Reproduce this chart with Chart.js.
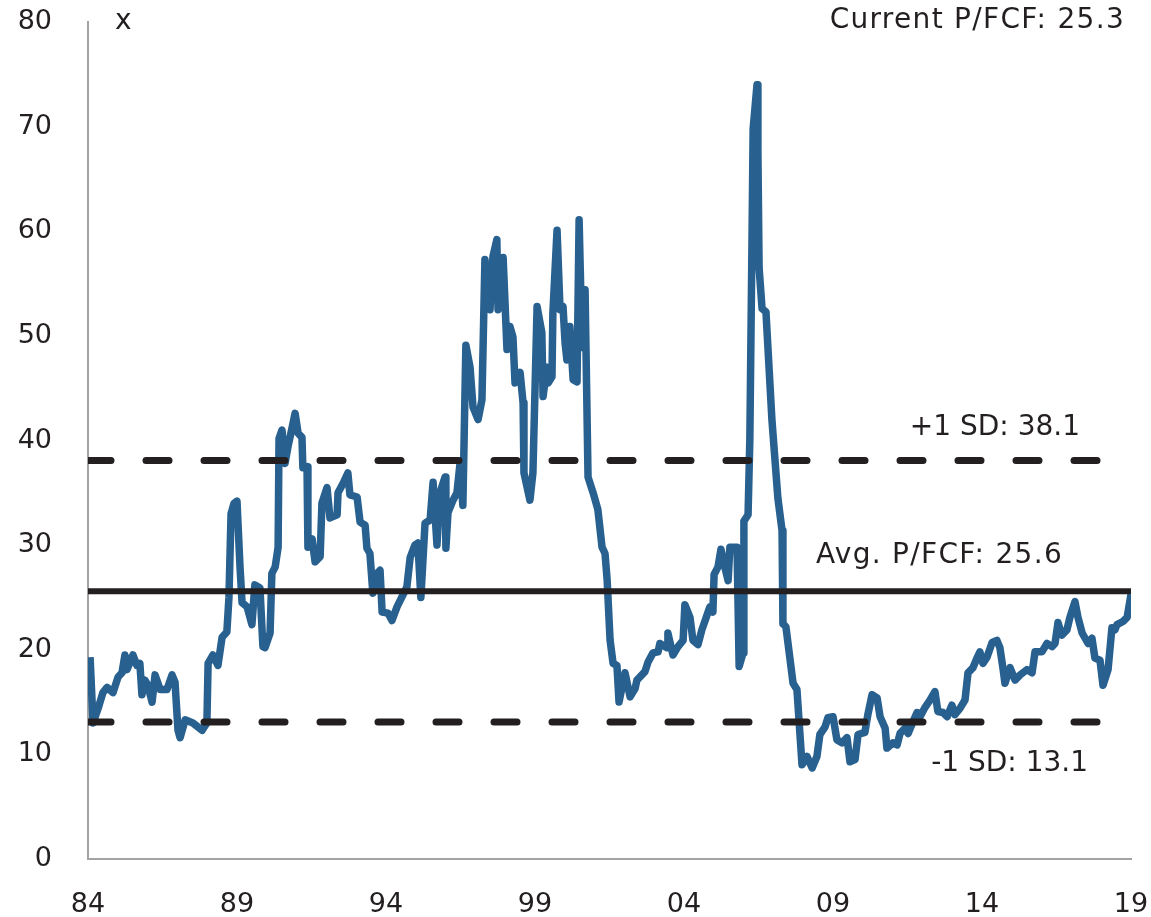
<!DOCTYPE html>
<html>
<head>
<meta charset="utf-8">
<script src="https://cdn.jsdelivr.net/npm/chart.js@4/dist/chart.umd.min.js"></script>
<style>
  html, body { margin: 0; padding: 0; background: #fff; }
  #wrap { width: 1151px; height: 917px; }
</style>
</head>
<body>
<div id="wrap"><canvas id="pfcf"></canvas></div>
<script>
// P/FCF multiple (decimal year -> x)
const dates = [
  1984.07, 1984.17, 1984.34, 1984.50, 1984.64, 1984.84, 1985.01, 1985.14, 1985.24, 1985.31,
  1985.51, 1985.64, 1985.74, 1985.81, 1985.91, 1986.01, 1986.15, 1986.25, 1986.42, 1986.65,
  1986.82, 1986.92, 1987.02, 1987.09, 1987.26, 1987.52, 1987.83, 1987.99, 1988.03, 1988.19,
  1988.36, 1988.50, 1988.66, 1988.73, 1988.80, 1988.90, 1989.00, 1989.10, 1989.17, 1989.34,
  1989.50, 1989.60, 1989.77, 1989.87, 1989.94, 1990.11, 1990.17, 1990.28, 1990.38, 1990.41,
  1990.51, 1990.61, 1990.71, 1990.81, 1990.95, 1991.05, 1991.18, 1991.21, 1991.35, 1991.38,
  1991.52, 1991.62, 1991.79, 1991.85, 1992.02, 1992.12, 1992.36, 1992.39, 1992.56, 1992.72,
  1992.79, 1993.03, 1993.13, 1993.30, 1993.36, 1993.46, 1993.56, 1993.70, 1993.80, 1993.87,
  1994.07, 1994.20, 1994.37, 1994.70, 1994.81, 1994.97, 1995.07, 1995.17, 1995.31, 1995.48,
  1995.58, 1995.71, 1995.81, 1995.98, 1996.01, 1996.08, 1996.25, 1996.38, 1996.48, 1996.58,
  1996.68, 1996.82, 1996.92, 1997.09, 1997.22, 1997.32, 1997.49, 1997.59, 1997.72, 1997.76,
  1997.93, 1998.06, 1998.16, 1998.26, 1998.33, 1998.50, 1998.60, 1998.63, 1998.83, 1998.93,
  1999.07, 1999.23, 1999.27, 1999.40, 1999.44, 1999.57, 1999.60, 1999.74, 1999.84, 1999.94,
  2000.01, 2000.07, 2000.17, 2000.28, 2000.41, 2000.48, 2000.58, 2000.68, 2000.78, 2000.95,
  2001.11, 2001.25, 2001.35, 2001.42, 2001.52, 2001.62, 2001.75, 2001.82, 2002.02, 2002.19,
  2002.36, 2002.42, 2002.69, 2002.79, 2002.96, 2003.13, 2003.19, 2003.43, 2003.46, 2003.63,
  2003.80, 2003.97, 2004.03, 2004.20, 2004.30, 2004.47, 2004.60, 2004.77, 2004.87, 2004.97,
  2005.01, 2005.14, 2005.24, 2005.38, 2005.48, 2005.54, 2005.78, 2005.85, 2005.98, 2006.01,
  2006.15, 2006.21, 2006.28, 2006.32, 2006.45, 2006.48, 2006.52, 2006.62, 2006.75, 2006.95,
  2007.15, 2007.29, 2007.32, 2007.42, 2007.66, 2007.79, 2007.96, 2008.13, 2008.30, 2008.46,
  2008.56, 2008.73, 2008.83, 2009.00, 2009.13, 2009.30, 2009.47, 2009.57, 2009.74, 2009.84,
  2010.07, 2010.17, 2010.31, 2010.48, 2010.58, 2010.75, 2010.81, 2011.01, 2011.15, 2011.25,
  2011.42, 2011.52, 2011.68, 2011.82, 2011.92, 2012.09, 2012.26, 2012.42, 2012.52, 2012.69,
  2012.83, 2012.99, 2013.09, 2013.26, 2013.43, 2013.53, 2013.70, 2013.83, 2013.93, 2014.03,
  2014.17, 2014.34, 2014.50, 2014.60, 2014.70, 2014.77, 2014.94, 2015.11, 2015.28, 2015.51,
  2015.68, 2015.78, 2016.01, 2016.18, 2016.35, 2016.45, 2016.55, 2016.68, 2016.85, 2016.95,
  2017.12, 2017.22, 2017.36, 2017.46, 2017.56, 2017.69, 2017.79, 2017.96, 2018.06, 2018.23,
  2018.36, 2018.46, 2018.53, 2018.73, 2018.87, 2019.00
];
const pfcf = [
  19.3, 13.0, 14.4, 15.9, 16.4, 15.9, 17.4, 17.8, 19.5, 18.1,
  19.5, 18.5, 18.7, 15.7, 17.1, 16.6, 15.0, 17.6, 16.2, 16.2,
  17.6, 16.9, 12.3, 11.6, 13.3, 13.0, 12.3, 13.0, 18.7, 19.5,
  18.5, 21.2, 21.7, 25.0, 33.0, 34.0, 34.2, 28.0, 24.5, 24.1,
  22.4, 26.2, 25.9, 20.3, 20.2, 21.6, 27.3, 27.9, 29.8, 40.2,
  41.0, 37.8, 39.4, 40.7, 42.6, 40.7, 40.3, 37.4, 37.5, 29.8,
  30.6, 28.4, 28.9, 34.0, 35.5, 32.6, 32.9, 35.0, 35.9, 36.9,
  34.8, 34.6, 32.2, 31.9, 29.7, 29.2, 25.4, 27.3, 27.6, 23.6,
  23.5, 22.8, 24.1, 26.0, 28.8, 30.0, 30.2, 25.0, 32.1, 32.4,
  36.0, 30.0, 35.0, 36.5, 29.7, 33.1, 34.3, 35.0, 37.7, 33.8,
  49.1, 47.0, 43.2, 42.0, 43.9, 57.3, 52.5, 57.6, 59.2, 52.5,
  57.5, 48.7, 50.9, 49.9, 45.5, 46.5, 43.6, 36.9, 34.3, 36.9,
  52.8, 50.3, 44.2, 47.0, 45.5, 46.1, 52.2, 60.1, 52.5, 52.8,
  49.3, 47.7, 50.9, 45.8, 45.6, 61.1, 48.9, 54.4, 36.5, 35.0,
  33.4, 29.8, 29.2, 26.7, 20.9, 18.7, 18.5, 15.0, 17.8, 15.5,
  16.3, 17.1, 17.9, 18.8, 19.7, 19.8, 20.6, 20.2, 21.6, 19.5,
  20.3, 20.9, 24.3, 23.1, 20.9, 20.5, 21.9, 23.3, 24.1, 23.6,
  27.2, 27.9, 29.6, 27.8, 26.6, 29.8, 29.8, 18.4, 19.7, 32.3,
  32.9, 40.2, 58.7, 69.8, 74.0, 67.6, 56.5, 52.6, 52.3, 42.0,
  34.5, 31.4, 22.5, 22.2, 16.8, 16.2, 9.0, 9.8, 8.7, 9.8,
  11.9, 12.6, 13.5, 13.6, 11.4, 11.1, 11.6, 9.3, 9.5, 11.9,
  12.1, 13.8, 15.7, 15.4, 13.6, 12.5, 10.6, 11.1, 10.9, 12.0,
  12.5, 12.0, 13.1, 14.0, 13.6, 14.5, 15.2, 16.0, 14.1, 14.0,
  13.6, 14.7, 13.8, 14.4, 15.2, 17.8, 18.3, 19.2, 19.8, 18.7,
  19.3, 20.7, 20.9, 20.2, 18.3, 16.8, 18.3, 17.1, 17.6, 18.1,
  17.8, 19.8, 19.8, 20.6, 20.3, 20.6, 22.6, 21.4, 21.9, 23.1,
  24.6, 23.1, 21.6, 21.1, 20.6, 21.1, 19.2, 19.0, 16.6, 18.1,
  22.1, 21.9, 22.4, 22.7, 23.1, 25.3
];

const avgPfcf = 25.6;
const plusSd = 38.1;
const minusSd = 13.1;
const currentPfcf = 25.3;

const xTicks = [1984, 1989, 1994, 1999, 2004, 2009, 2014, 2019];
const yTicks = [0, 10, 20, 30, 40, 50, 60, 70, 80];

const FONT = "'DejaVu Sans', sans-serif";
const INK = '#231f20';
const BLUE = '#28608f';

const series = dates.map((d, i) => ({ x: d, y: pfcf[i] }));
const flat = v => [{ x: xTicks[0], y: v }, { x: xTicks[xTicks.length - 1], y: v }];

// text labels on the plot
const labelPlugin = {
  id: 'labels',
  afterDatasetsDraw(chart) {
    const { ctx, scales: { y }, chartArea } = chart;
    ctx.save();
    ctx.fillStyle = INK;
    ctx.font = `28px ${FONT}`;
    ctx.textBaseline = 'middle';
    ctx.textAlign = 'left';
    ctx.fillText('x', chartArea.left + 27, chartArea.top);
    ctx.textAlign = 'right';
    ctx.fillText(`+1 SD: ${plusSd}`, chartArea.right - 51, y.getPixelForValue(plusSd) - 33);
    ctx.fillText(`-1 SD: ${minusSd}`, chartArea.right - 43, y.getPixelForValue(minusSd) + 42);
    ctx.letterSpacing = '1.3px';
    ctx.fillText(`Current P/FCF: ${currentPfcf}`, chartArea.right - 6, chartArea.top - 1);
    ctx.fillText(`Avg. P/FCF: ${avgPfcf}`, chartArea.right - 68, y.getPixelForValue(avgPfcf) - 35);
    ctx.restore();
  }
};

new Chart(document.getElementById('pfcf'), {
  type: 'line',
  data: {
    datasets: [
      { data: series, borderColor: BLUE, borderWidth: 7.5, pointRadius: 0, tension: 0,
        borderJoinStyle: 'round', order: 2 },
      { data: flat(avgPfcf), borderColor: INK, borderWidth: 6, pointRadius: 0, order: 1 },
      { data: flat(plusSd), borderColor: INK, borderWidth: 7, pointRadius: 0, order: 1,
        borderDash: [23, 35], borderCapStyle: 'round' },
      { data: flat(minusSd), borderColor: INK, borderWidth: 7, pointRadius: 0, order: 1,
        borderDash: [23, 35], borderCapStyle: 'round' }
    ]
  },
  options: {
    responsive: true,
    maintainAspectRatio: false,
    animation: false,
    layout: { padding: { top: 22, right: 20, left: 0, bottom: 0 } },
    plugins: { legend: { display: false }, tooltip: { enabled: false } },
    scales: {
      x: {
        type: 'linear',
        min: xTicks[0],
        max: xTicks[xTicks.length - 1],
        afterBuildTicks: s => { s.ticks = xTicks.map(v => ({ value: v })); },
        afterFit: s => { s.height = 58; s.paddingLeft = 0; s.paddingRight = 0; },
        ticks: {
          color: INK, font: { family: FONT, size: 27 }, padding: 30, maxRotation: 0,
          callback: v => String(v).slice(2)
        },
        grid: { display: false, drawTicks: false },
        border: { display: true, color: '#a3a3a3', width: 2 }
      },
      y: {
        min: 0,
        max: 80,
        afterBuildTicks: s => { s.ticks = yTicks.map(v => ({ value: v })); },
        afterFit: s => { s.width = 88; s.paddingTop = 0; s.paddingBottom = 0; },
        ticks: { color: INK, font: { family: FONT, size: 27 }, padding: 36 },
        grid: { display: false, drawTicks: false },
        border: { display: true, color: '#a3a3a3', width: 2 }
      }
    }
  },
  plugins: [labelPlugin]
});
</script>
</body>
</html>
